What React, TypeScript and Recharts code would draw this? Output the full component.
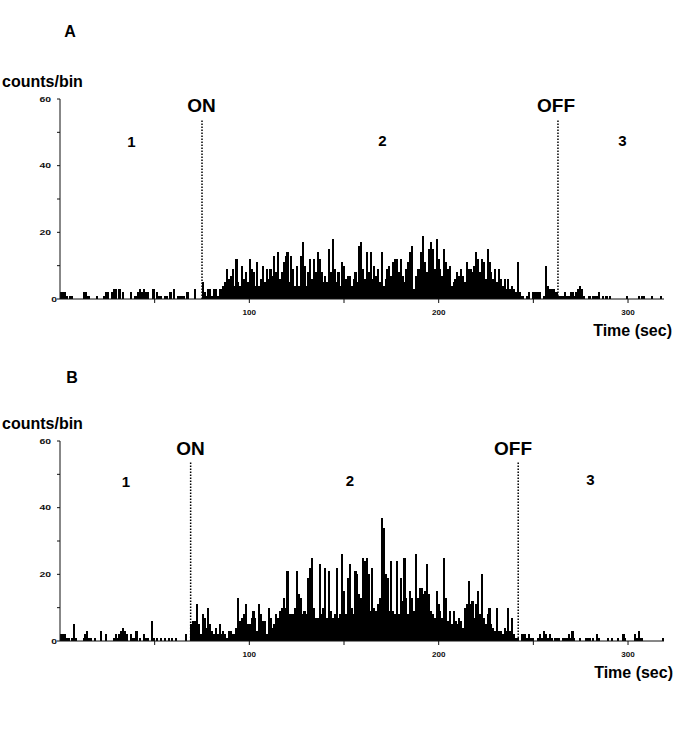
import React from 'react';
import { BarChart, Bar, XAxis, YAxis, ReferenceLine } from 'recharts';

// 1-second bins, 0..319 s
const binStarts = Array.from({ length: 320 }, (_, i) => i);

// panel A: counts per bin
const countsA = [
  2, 2, 2, 1, 0, 1, 1, 0, 0, 0,
  0, 0, 2, 2, 1, 1, 0, 0, 0, 1,
  0, 0, 0, 1, 2, 2, 0, 2, 3, 3,
  0, 3, 0, 2, 0, 0, 0, 2, 0, 1,
  1, 2, 3, 2, 3, 2, 2, 0, 0, 3,
  0, 2, 1, 1, 0, 1, 1, 0, 2, 0,
  3, 0, 1, 1, 1, 1, 0, 2, 0, 0,
  0, 3, 0, 0, 0, 5, 2, 1, 3, 3,
  1, 3, 3, 1, 3, 3, 4, 5, 9, 6,
  7, 9, 4, 12, 5, 4, 10, 6, 8, 5,
  12, 9, 8, 4, 11, 4, 6, 10, 5, 9,
  6, 9, 7, 13, 8, 14, 6, 8, 11, 13,
  14, 5, 13, 9, 4, 10, 4, 13, 17, 10,
  4, 8, 12, 6, 12, 8, 14, 12, 8, 5,
  7, 5, 15, 8, 18, 9, 5, 8, 4, 11,
  10, 6, 7, 7, 4, 6, 8, 5, 16, 17,
  9, 6, 14, 8, 14, 6, 10, 7, 9, 5,
  14, 4, 6, 9, 10, 7, 11, 12, 12, 8,
  12, 7, 5, 9, 11, 14, 16, 3, 7, 9,
  9, 14, 19, 11, 8, 15, 17, 15, 9, 18,
  12, 9, 7, 15, 11, 9, 10, 4, 5, 6,
  8, 7, 9, 7, 5, 11, 9, 9, 8, 10,
  14, 12, 8, 12, 11, 6, 15, 11, 8, 6,
  9, 5, 9, 6, 4, 6, 3, 6, 3, 4,
  3, 2, 11, 2, 1, 1, 0, 1, 2, 0,
  2, 2, 2, 2, 2, 0, 1, 10, 4, 3,
  3, 3, 2, 2, 1, 1, 1, 2, 1, 1,
  2, 2, 1, 2, 3, 4, 3, 1, 0, 0,
  1, 0, 1, 1, 1, 2, 0, 1, 0, 1,
  0, 1, 0, 0, 0, 0, 0, 0, 0, 0,
  1, 0, 0, 0, 0, 0, 1, 0, 1, 1,
  0, 0, 0, 1, 0, 0, 0, 0, 1, 0,
];

// panel B
const countsB = [
  2, 2, 2, 1, 1, 0, 1, 5, 1, 0,
  0, 0, 1, 2, 3, 1, 1, 0, 1, 0,
  0, 3, 0, 0, 2, 0, 0, 0, 1, 2,
  1, 2, 3, 4, 3, 2, 0, 2, 1, 1,
  3, 0, 1, 0, 2, 1, 1, 0, 6, 1,
  0, 1, 0, 1, 0, 1, 0, 1, 0, 1,
  0, 1, 0, 0, 0, 0, 2, 0, 0, 5,
  6, 6, 11, 5, 2, 8, 7, 4, 10, 5,
  3, 2, 4, 2, 5, 2, 3, 2, 1, 3,
  3, 2, 2, 4, 13, 6, 7, 8, 11, 5,
  5, 7, 9, 7, 3, 11, 8, 6, 6, 2,
  10, 7, 4, 5, 8, 7, 9, 10, 13, 10,
  21, 8, 8, 8, 10, 21, 14, 13, 8, 9,
  8, 19, 22, 25, 10, 7, 7, 23, 8, 10,
  22, 7, 21, 9, 7, 8, 22, 7, 8, 26,
  15, 8, 19, 23, 10, 8, 21, 20, 14, 13,
  25, 24, 25, 20, 9, 22, 10, 9, 11, 13,
  37, 34, 20, 19, 9, 24, 9, 8, 24, 8,
  19, 12, 25, 13, 8, 15, 13, 9, 26, 13,
  16, 16, 14, 15, 23, 14, 9, 8, 7, 15,
  11, 9, 7, 25, 13, 6, 9, 5, 9, 6,
  5, 7, 6, 4, 10, 11, 18, 11, 12, 7,
  11, 15, 8, 20, 7, 5, 8, 10, 5, 4,
  3, 10, 3, 3, 2, 4, 3, 10, 3, 7,
  2, 1, 1, 0, 2, 2, 2, 1, 2, 1,
  1, 0, 0, 1, 2, 1, 3, 2, 1, 2,
  1, 0, 1, 1, 1, 0, 1, 1, 1, 2,
  1, 3, 1, 0, 0, 1, 0, 0, 1, 1,
  1, 0, 1, 0, 2, 1, 0, 0, 0, 0,
  1, 0, 1, 0, 0, 1, 0, 0, 2, 1,
  0, 0, 0, 0, 2, 1, 3, 1, 1, 0,
  0, 0, 0, 0, 0, 0, 0, 0, 0, 1,
];

// stimulus on / off times (s)
const stimulusA = [75, 263];
const stimulusB = [69, 242];

const yTicks = [0, 10, 20, 30, 40, 50, 60];
const yLabelTicks = [0, 20, 40, 60];
const timeTicks = [50, 100, 150, 200, 250, 300];
const timeLabelTicks = [100, 200, 300];

const FONT = '"Liberation Sans", Arial, sans-serif';
const INK = '#111';

const CountTick = (props: any) => {
  const { x, y, payload } = props;
  if (!yLabelTicks.includes(payload.value)) return null;
  const txt = String(payload.value);
  const zero = payload.value === 0;
  return (
    <text
      x={zero ? x + 2 : x - 4}
      y={y}
      dy={2.6}
      textAnchor="end"
      fontSize={7.5}
      fontWeight="bold"
      fontFamily={FONT}
      fill={INK}
      textLength={txt.length * 5.8}
      lengthAdjust="spacingAndGlyphs"
    >
      {txt}
    </text>
  );
};

const TimeTick = (props: any) => {
  const { x, y, payload } = props;
  if (!timeLabelTicks.includes(payload.value)) return null;
  return (
    <text
      x={x}
      y={y}
      dy={10}
      textAnchor="middle"
      fontSize={7.5}
      fontWeight="bold"
      fontFamily={FONT}
      fill={INK}
      textLength={13.5}
      lengthAdjust="spacingAndGlyphs"
    >
      {payload.value}
    </text>
  );
};

// bins are ~1.9px wide; draw each a touch wider and pixel-snapped so neighbours join cleanly
const BinRect = (props: any) => {
  const { x, y, width, height } = props;
  if (!height || height <= 0) return null;
  const cx = x + width / 2;
  return (
    <rect
      x={cx - 1.05}
      y={y}
      width={2.1}
      height={height}
      fill="#000"
      shapeRendering="crispEdges"
    />
  );
};

function Histogram({ counts, stimulus }: { counts: number[]; stimulus: number[] }) {
  const rows = binStarts.map((t, i) => ({ bin: t, count: counts[i] }));
  return (
    <BarChart
      width={685}
      height={342}
      data={rows}
      margin={{ top: 99, right: 21, bottom: 13, left: 0 }}
      barCategoryGap={0}
      barGap={0}
    >
      <XAxis xAxisId="bins" dataKey="bin" hide height={0} />
      <XAxis
        xAxisId="time"
        type="number"
        domain={[0, 320]}
        ticks={timeTicks}
        interval={0}
        tick={<TimeTick />}
        tickSize={4}
        height={30}
        stroke={INK}
        allowDataOverflow
      />
      <YAxis
        domain={[0, 60]}
        ticks={yTicks}
        interval={0}
        tick={<CountTick />}
        tickSize={3}
        width={60}
        stroke={INK}
      />
      <Bar
        xAxisId="bins"
        dataKey="count"
        fill="#000"
        shape={<BinRect />}
        isAnimationActive={false}
      />
      {stimulus.map((t) => (
        <ReferenceLine
          key={t}
          xAxisId="time"
          segment={[{ x: t, y: 0 }, { x: t, y: 54 }]}
          stroke="#000"
          strokeWidth={1.5}
          strokeDasharray="1.5 1.5"
        />
      ))}
    </BarChart>
  );
}

const bold = { fontFamily: FONT, fontWeight: 'bold' as const, fill: '#000' };

export default function App() {
  return (
    <div style={{ position: 'absolute', left: 0, top: 0, width: 685, height: 735, background: '#fff' }}>
      <div style={{ position: 'absolute', left: 0, top: 0 }}>
        <Histogram counts={countsA} stimulus={stimulusA} />
      </div>
      <div style={{ position: 'absolute', left: 0, top: 342 }}>
        <Histogram counts={countsB} stimulus={stimulusB} />
      </div>
      <svg
        width={685}
        height={735}
        style={{ position: 'absolute', left: 0, top: 0, pointerEvents: 'none' }}
      >
        {/* panel A */}
        <text x={70} y={37} textAnchor="middle" fontSize={16} {...bold}>A</text>
        <text x={2} y={87} fontSize={16} {...bold}>counts/bin</text>
        <text x={201.5} y={112} textAnchor="middle" fontSize={19} {...bold}>ON</text>
        <text x={556} y={112} textAnchor="middle" fontSize={19} {...bold}>OFF</text>
        <text x={131.5} y={146.5} textAnchor="middle" fontSize={15} {...bold}>1</text>
        <text x={382.5} y={146} textAnchor="middle" fontSize={15} {...bold}>2</text>
        <text x={622.5} y={146} textAnchor="middle" fontSize={15} {...bold}>3</text>
        <text x={672} y={336} textAnchor="end" fontSize={16} {...bold}>Time (sec)</text>
        {/* panel B */}
        <text x={72} y={383} textAnchor="middle" fontSize={16} {...bold}>B</text>
        <text x={2} y={429} fontSize={16} {...bold}>counts/bin</text>
        <text x={190.5} y={455} textAnchor="middle" fontSize={19} {...bold}>ON</text>
        <text x={513} y={455} textAnchor="middle" fontSize={19} {...bold}>OFF</text>
        <text x={126} y={486.5} textAnchor="middle" fontSize={15} {...bold}>1</text>
        <text x={350} y={485.5} textAnchor="middle" fontSize={15} {...bold}>2</text>
        <text x={590.5} y={485} textAnchor="middle" fontSize={15} {...bold}>3</text>
        <text x={673} y={678} textAnchor="end" fontSize={16} {...bold}>Time (sec)</text>
      </svg>
    </div>
  );
}
